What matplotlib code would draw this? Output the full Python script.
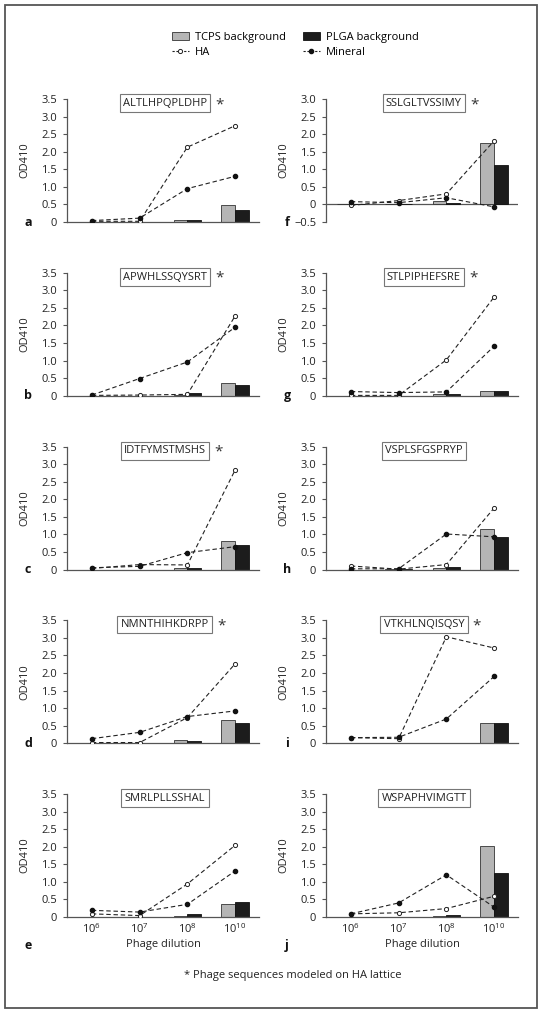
import matplotlib
matplotlib.use("Agg")
import matplotlib.pyplot as plt
from matplotlib.patches import Rectangle, Patch
from matplotlib.lines import Line2D

plt.rcParams['font.family'] = ['Open Sans', 'DejaVu Sans']
plt.rcParams['mathtext.default'] = 'regular'

# phage dilutions on the x axis
dilutions = ['10$^{6}$', '10$^{7}$', '10$^{8}$', '10$^{10}$']

# panels, in reading order a..e (left column) then f..j (right column)
letters = ['a', 'b', 'c', 'd', 'e', 'f', 'g', 'h', 'i', 'j']
sequences = ['ALTLHPQPLDHP', 'APWHLSSQYSRT', 'IDTFYMSTMSHS', 'NMNTHIHKDRPP', 'SMRLPLLSSHAL',
             'SSLGLTVSSIMY', 'STLPIPHEFSRE', 'VSPLSFGSPRYP', 'VTKHLNQISQSY', 'WSPAPHVIMGTT']
modeled = [True, True, True, True, False, True, True, False, True, False]

ha = [[0.02, 0.02, 2.13, 2.74],
      [0.01, 0.02, 0.04, 2.27],
      [0.03, 0.14, 0.13, 2.83],
      [0.02, 0.02, 0.73, 2.26],
      [0.09, 0.04, 0.94, 2.04],
      [-0.03, 0.11, 0.30, 1.81],
      [0.01, 0.01, 1.02, 2.81],
      [0.10, 0.01, 0.14, 1.75],
      [0.16, 0.13, 3.03, 2.71],
      [0.09, 0.12, 0.24, 0.59]]

mineral = [[0.04, 0.11, 0.95, 1.30],
           [0.02, 0.49, 0.96, 1.95],
           [0.05, 0.09, 0.48, 0.65],
           [0.13, 0.31, 0.76, 0.92],
           [0.19, 0.14, 0.36, 1.31],
           [0.08, 0.05, 0.19, -0.07],
           [0.12, 0.09, 0.11, 1.41],
           [0.02, 0.02, 1.01, 0.93],
           [0.16, 0.17, 0.69, 1.90],
           [0.09, 0.40, 1.20, 0.28]]

tcps = [[0, 0, 0.07, 0.47],
        [0, 0, 0.01, 0.37],
        [0, 0, 0.05, 0.80],
        [0, 0, 0.09, 0.66],
        [0, 0, 0.04, 0.38],
        [0, 0, 0.09, 1.74],
        [0, 0, 0.05, 0.14],
        [0, 0.02, 0.05, 1.14],
        [0, 0, 0.02, 0.58],
        [0, 0, 0.03, 2.02]]

plga = [[0, 0, 0.05, 0.34],
        [0, 0, 0.08, 0.30],
        [0, 0, 0.05, 0.70],
        [0, 0, 0.05, 0.58],
        [0, 0, 0.08, 0.44],
        [0, 0, 0.05, 1.12],
        [0, 0, 0.05, 0.14],
        [0, 0.02, 0.06, 0.92],
        [0, 0, 0.02, 0.58],
        [0, 0, 0.05, 1.24]]

W, H = 542, 1013
fs = 8
fig = plt.figure(figsize=(W / 100, H / 100), dpi=100)

# outer frame
fig.patches.append(Rectangle((5 / W, 1 - 1008 / H), 532 / W, 1003 / H, transform=fig.transFigure,
                             fill=False, edgecolor='#555555', linewidth=1.3))

spine_col = '#555555'
gray = '#b5b5b5'
black = '#1c1c1c'
bw = 0.29
x = list(range(len(dilutions)))

for n in range(10):
    col = n // 5
    row = n % 5
    left_px = 67 if col == 0 else 326
    bottom_px = 222 + 173.75 * row
    ax = fig.add_axes([left_px / W, 1 - bottom_px / H, 192 / W, 123 / H])

    ax.bar([i - bw / 2 for i in x], tcps[n], width=bw, color=gray, edgecolor='#333333', linewidth=0.6, zorder=2)
    ax.bar([i + bw / 2 for i in x], plga[n], width=bw, color=black, edgecolor='#111111', linewidth=0.6, zorder=2)
    ax.plot(x, ha[n], linestyle=(0, (4, 2.5)), color='#222222', linewidth=0.8, marker='o', markersize=3,
            markerfacecolor='white', markeredgecolor='#222222', markeredgewidth=0.7, zorder=3)
    ax.plot(x, mineral[n], linestyle=(0, (4, 2.5)), color='#222222', linewidth=0.8, marker='o', markersize=3,
            markerfacecolor='#111111', markeredgecolor='#111111', zorder=3)

    ax.set_xlim(-0.52, 3.5)
    if letters[n] == 'f':
        ax.set_ylim(-0.5, 3.0)
        ax.set_yticks([-0.5, 0, 0.5, 1.0, 1.5, 2.0, 2.5, 3.0])
        ax.set_yticklabels(['\u22120.5', '0', '0.5', '1.0', '1.5', '2.0', '2.5', '3.0'])
        ax.spines['bottom'].set_visible(False)
        ax.axhline(0, color=spine_col, linewidth=0.9, zorder=1)
    else:
        ax.set_ylim(0, 3.5)
        ax.set_yticks([0, 0.5, 1.0, 1.5, 2.0, 2.5, 3.0, 3.5])
        ax.set_yticklabels(['0', '0.5', '1.0', '1.5', '2.0', '2.5', '3.0', '3.5'])

    for s in ['top', 'right']:
        ax.spines[s].set_visible(False)
    for s in ['left', 'bottom']:
        ax.spines[s].set_color(spine_col)
        ax.spines[s].set_linewidth(0.9)
    ax.tick_params(axis='y', length=3, width=0.8, color=spine_col, pad=4, labelsize=fs, labelcolor='#222222')
    ax.tick_params(axis='x', length=0, pad=4, labelsize=fs, labelcolor='#222222')
    ax.set_xticks(x)
    if row == 4:
        ax.set_xticklabels(dilutions)
        ax.set_xlabel('Phage dilution', fontsize=fs, color='#222222', labelpad=2)
    else:
        ax.set_xticklabels([])
    ax.set_ylabel('OD410', fontsize=fs, color='#222222')
    ax.yaxis.set_label_coords(-37 / 192, 0.5)

    # boxed sequence name
    t = ax.text(0.51, 0.965, sequences[n], transform=ax.transAxes, ha='center', va='center', fontsize=fs,
                color='#222222', bbox=dict(boxstyle='square,pad=0.3', facecolor='white', edgecolor='#777777',
                                           linewidth=0.8))
    if modeled[n]:
        ax.annotate('*', xy=(1, 0.5), xycoords=t, xytext=(9, -1), textcoords='offset points',
                    ha='center', va='center', fontsize=11, color='#333333')

    # panel letter
    lx = 28 if col == 0 else 287
    ly = 945 if row == 4 else bottom_px
    fig.text(lx / W, 1 - ly / H, letters[n], fontsize=9, fontweight='bold', ha='center', va='center',
             color='#111111')

handles = [Patch(facecolor=gray, edgecolor='#333333', linewidth=0.6),
           Line2D([], [], linestyle=(0, (2, 1.5)), color='#222222', linewidth=0.8, marker='o', markersize=3,
                  markerfacecolor='white', markeredgecolor='#222222', markeredgewidth=0.7),
           Patch(facecolor=black, edgecolor='#111111', linewidth=0.6),
           Line2D([], [], linestyle=(0, (2, 1.5)), color='#222222', linewidth=0.8, marker='o', markersize=3,
                  markerfacecolor='#111111', markeredgecolor='#111111')]
labels = ['TCPS background', 'HA', 'PLGA background', 'Mineral']
fig.legend(handles, labels, loc='center left', bbox_to_anchor=(166 / W, 1 - 45 / H), ncol=2, frameon=False,
           fontsize=fs, handlelength=1.6, handleheight=0.7, handletextpad=0.5, columnspacing=1.5,
           labelspacing=0.35, borderpad=0)

fig.text(293 / W, 1 - 975 / H, '* Phage sequences modeled on HA lattice', ha='center', va='center',
         fontsize=fs, color='#222222')

fig.savefig('out.png', dpi=100)
